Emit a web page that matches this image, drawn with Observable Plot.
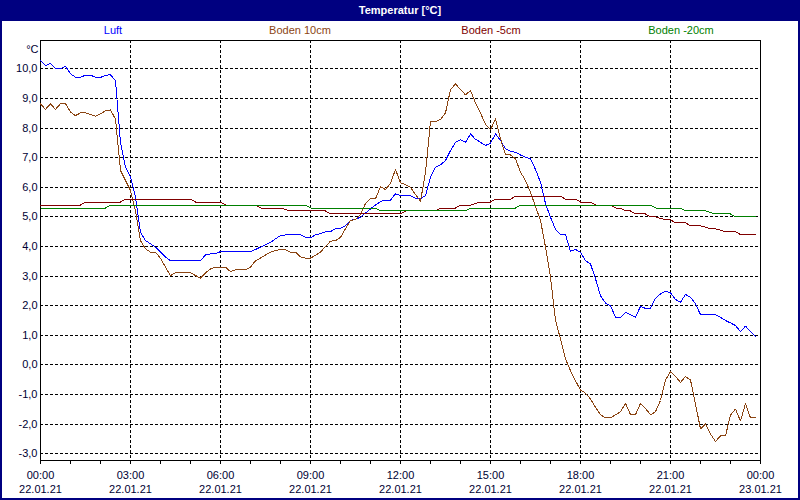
<!DOCTYPE html>
<html>
<head>
<meta charset="utf-8">
<script src="https://cdn.jsdelivr.net/npm/d3@7"></script>
<script src="https://cdn.jsdelivr.net/npm/@observablehq/plot@0.6"></script>
<style>
  html, body { margin: 0; padding: 0; background: #ffffff; }
  #wrap { position: relative; width: 800px; height: 500px; overflow: hidden; background: #ffffff;
          font-family: "Liberation Sans", Arial, sans-serif; font-size: 11px; }
  #titlebar { position: absolute; left: 0; top: 0; width: 800px; height: 21px; background: #000080;
              color: #ffffff; font-weight: bold; text-align: center; line-height: 21px; font-size: 11px; }
  #frame { position: absolute; left: 0; top: 0; width: 800px; height: 500px; box-sizing: border-box;
           border: 2px solid #000080; pointer-events: none; z-index: 5; }
  .leg { position: absolute; top: 23px; line-height: 14px; transform: translateX(-50%); white-space: nowrap; }
  #chart { position: absolute; left: 0; top: 21px; }
  #chart svg { shape-rendering: crispEdges; }
</style>
</head>
<body>
<div id="wrap">
  <div id="titlebar">Temperatur [°C]</div>
  <div id="legend"></div>
  <div id="chart"></div>
  <div id="frame"></div>
</div>
<script>
// ---- Data (10-minute samples starting 22.01.21 00:00) ----
const seriesNames = ["Luft", "Boden 10cm", "Boden -5cm", "Boden -20cm"];
const seriesColors = ["#0000ff", "#8b4513", "#800000", "#008000"];
const legendCenters = [113, 300, 491, 681];

const luft = [
  10.28, 10.11, 10.19, 10.0, 10.0, 10.09, 9.83, 9.72, 9.72, 9.78,
  9.79, 9.71, 9.71, 9.78, 9.80, 9.60, 7.5, 6.68, 6.35, 5.66,
  4.48, 4.2, 4.09, 3.98, 3.81, 3.64, 3.52, 3.52, 3.52, 3.52,
  3.52, 3.52, 3.52, 3.72, 3.75, 3.75, 3.83, 3.83, 3.83, 3.83,
  3.83, 3.83, 3.83, 3.90, 3.98, 4.06, 4.14, 4.26, 4.37, 4.39,
  4.39, 4.39, 4.39, 4.31, 4.29, 4.40, 4.43, 4.50, 4.50, 4.60,
  4.62, 4.70, 4.88, 4.92, 4.99, 5.13, 5.27, 5.40, 5.52, 5.57,
  5.57, 5.78, 5.72, 5.72, 5.72, 5.63, 5.61, 5.72, 6.34, 6.68,
  6.76, 6.90, 7.24, 7.52, 7.61, 7.52, 7.80, 7.62, 7.52, 7.41,
  7.49, 7.80, 7.58, 7.30, 7.21, 7.18, 7.09, 7.02, 6.96, 6.60,
  6.17, 5.45, 4.99, 4.58, 4.40, 4.40, 3.84, 3.90, 3.80, 3.52,
  3.41, 2.91, 2.34, 2.09, 2.0, 1.61, 1.61, 1.78, 1.69, 1.61,
  1.98, 1.91, 1.91, 2.25, 2.40, 2.49, 2.43, 2.21, 2.12, 2.38,
  2.29, 2.06, 1.70, 1.70, 1.70, 1.70, 1.61, 1.50, 1.42, 1.33,
  1.13, 1.31, 1.13, 0.96
];
const boden10 = [
  8.82, 8.63, 8.82, 8.63, 8.82, 8.82, 8.54, 8.42, 8.51, 8.51,
  8.46, 8.40, 8.48, 8.58, 8.61, 8.30, 6.57, 6.23, 5.89, 5.20,
  4.20, 3.92, 3.81, 3.81, 3.60, 3.30, 3.02, 3.11, 3.11, 3.11,
  3.11, 3.02, 2.93, 3.11, 3.24, 3.30, 3.30, 3.30, 3.15, 3.21,
  3.21, 3.21, 3.30, 3.52, 3.61, 3.71, 3.81, 3.87, 3.89, 3.89,
  3.81, 3.81, 3.65, 3.61, 3.61, 3.70, 3.81, 4.00, 4.18, 4.20,
  4.31, 4.60, 4.88, 4.91, 5.08, 5.45, 5.61, 5.61, 6.02, 5.92,
  6.14, 6.60, 6.15, 6.09, 6.00, 5.75, 5.53, 6.50, 8.22, 8.22,
  8.29, 8.51, 9.30, 9.49, 9.30, 9.12, 9.27, 8.85, 8.51, 8.12,
  7.94, 8.31, 7.64, 7.09, 7.09, 6.96, 6.51, 6.23, 5.83, 5.35,
  4.88, 3.98, 2.96, 1.50, 0.88, 0.20, -0.19, -0.53, -0.85, -0.95,
  -1.15, -1.43, -1.68, -1.79, -1.79, -1.68, -1.58, -1.30, -1.68, -1.68,
  -1.30, -1.47, -1.68, -1.58, -1.20, -0.50, -0.23, -0.39, -0.59, -0.39,
  -0.51, -1.32, -2.16, -1.99, -2.33, -2.59, -2.39, -2.39, -1.69, -1.49,
  -1.89, -1.30, -1.79, -1.79
];
const bodenM5 = [
  5.4, 5.4, 5.4, 5.4, 5.4, 5.4, 5.4, 5.4, 5.4, 5.5,
  5.5, 5.5, 5.5, 5.5, 5.5, 5.5, 5.5, 5.6, 5.6, 5.6,
  5.6, 5.6, 5.6, 5.6, 5.6, 5.6, 5.6, 5.6, 5.6, 5.6,
  5.6, 5.5, 5.5, 5.5, 5.5, 5.5, 5.5, 5.4, 5.4, 5.4,
  5.4, 5.4, 5.4, 5.4, 5.3, 5.3, 5.3, 5.3, 5.3, 5.25,
  5.2, 5.2, 5.2, 5.2, 5.2, 5.2, 5.2, 5.2, 5.1, 5.1,
  5.1, 5.1, 5.1, 5.1, 5.1, 5.1, 5.1, 5.1, 5.1, 5.1,
  5.1, 5.1, 5.1, 5.2, 5.2, 5.2, 5.2, 5.2, 5.2, 5.2,
  5.3, 5.3, 5.3, 5.3, 5.4, 5.4, 5.4, 5.45, 5.5, 5.5,
  5.5, 5.6, 5.6, 5.6, 5.6, 5.7, 5.7, 5.7, 5.7, 5.7,
  5.7, 5.7, 5.7, 5.7, 5.7, 5.6, 5.6, 5.6, 5.5, 5.5,
  5.5, 5.4, 5.4, 5.4, 5.4, 5.3, 5.3, 5.2, 5.2, 5.1,
  5.1, 5.1, 5.0, 5.0, 4.95, 4.9, 4.9, 4.8, 4.8, 4.8,
  4.7, 4.7, 4.7, 4.65, 4.6, 4.6, 4.55, 4.5, 4.5, 4.5,
  4.4, 4.4, 4.4, 4.4
];
const bodenM20 = [
  5.3, 5.3, 5.3, 5.3, 5.3, 5.3, 5.3, 5.3, 5.3, 5.3,
  5.3, 5.3, 5.3, 5.3, 5.4, 5.4, 5.4, 5.4, 5.4, 5.4,
  5.4, 5.4, 5.4, 5.4, 5.4, 5.4, 5.4, 5.4, 5.4, 5.4,
  5.4, 5.4, 5.4, 5.4, 5.4, 5.4, 5.4, 5.4, 5.4, 5.4,
  5.4, 5.4, 5.4, 5.4, 5.4, 5.4, 5.4, 5.4, 5.4, 5.4,
  5.4, 5.4, 5.4, 5.4, 5.3, 5.3, 5.3, 5.3, 5.3, 5.3,
  5.3, 5.3, 5.3, 5.3, 5.3, 5.3, 5.3, 5.3, 5.2, 5.2,
  5.2, 5.2, 5.2, 5.2, 5.2, 5.2, 5.2, 5.2, 5.2, 5.2,
  5.2, 5.2, 5.2, 5.2, 5.2, 5.2, 5.3, 5.3, 5.3, 5.3,
  5.3, 5.3, 5.3, 5.3, 5.3, 5.3, 5.4, 5.4, 5.4, 5.4,
  5.4, 5.4, 5.4, 5.4, 5.4, 5.4, 5.4, 5.4, 5.4, 5.4,
  5.4, 5.4, 5.4, 5.4, 5.4, 5.4, 5.4, 5.4, 5.4, 5.4,
  5.4, 5.4, 5.4, 5.3, 5.3, 5.3, 5.3, 5.3, 5.3, 5.2,
  5.2, 5.2, 5.2, 5.2, 5.15, 5.1, 5.1, 5.1, 5.1, 5.0,
  5.0, 5.0, 5.0, 5.0
];
const sampleStepHours = 10 / 60;

// Axis ticks and labels
const yTicks = [-3, -2, -1, 0, 1, 2, 3, 4, 5, 6, 7, 8, 9, 10];
const yTickLabels = ["-3,0", "-2,0", "-1,0", "0,0", "1,0", "2,0", "3,0", "4,0", "5,0", "6,0", "7,0", "8,0", "9,0", "10,0"];
const xTickHours = [0, 3, 6, 9, 12, 15, 18, 21, 24];
const xTickTimes = ["00:00", "03:00", "06:00", "09:00", "12:00", "15:00", "18:00", "21:00", "00:00"];
const xTickDates = ["22.01.21", "22.01.21", "22.01.21", "22.01.21", "22.01.21", "22.01.21", "22.01.21", "22.01.21", "23.01.21"];
const xMinorHours = [0, 1, 2, 3, 4, 5, 6, 7, 8, 9, 10, 11, 12, 13, 14, 15, 16, 17, 18, 19, 20, 21, 22, 23, 24];
const xGridHours = [3, 6, 9, 12, 15, 18, 21];

// ---- Build ----
const seriesValues = [luft, boden10, bodenM5, bodenM20];
const rows = [];
seriesValues.forEach((vals, si) => vals.forEach((v, i) => rows.push({t: i * sampleStepHours, v, s: seriesNames[si]})));

const legend = document.getElementById("legend");
seriesNames.forEach((n, i) => {
  const sp = document.createElement("span");
  sp.className = "leg";
  sp.textContent = n;
  sp.style.left = legendCenters[i] + "px";
  sp.style.color = seriesColors[i];
  legend.appendChild(sp);
});

const dash = "3,2";
const chart = Plot.plot({
  width: 800,
  height: 479,
  marginTop: 19,
  marginLeft: 40,
  marginRight: 40,
  marginBottom: 40,
  style: {fontFamily: "'Liberation Sans', Arial, sans-serif", fontSize: "11px", color: "#000033", background: "transparent", overflow: "visible"},
  x: {domain: [0, 24], axis: null},
  y: {domain: [-3.226, 10.956], axis: null},
  marks: [
    Plot.gridY(yTicks, {stroke: "#000000", strokeOpacity: 1, strokeDasharray: dash}),
    Plot.gridX(xGridHours, {stroke: "#000000", strokeOpacity: 1, strokeDasharray: dash}),
    Plot.axisY(yTicks, {tickSize: 0, tickPadding: 3, label: null,
      tickFormat: d => yTickLabels[yTicks.indexOf(d)]}),
    Plot.axisX(xMinorHours, {tickSize: 4, label: null, tickFormat: () => "", stroke: "#000000"}),
    Plot.axisX(xTickHours, {tickSize: 4, tickPadding: 5, label: null, lineHeight: 1.25, stroke: "#000000",
      tickFormat: d => xTickTimes[xTickHours.indexOf(d)] + "\n" + xTickDates[xTickHours.indexOf(d)]}),
    Plot.frame({stroke: "#000000"}),
    ...seriesNames.map((n, i) => Plot.line(rows.filter(r => r.s === n), {x: "t", y: "v", stroke: seriesColors[i], strokeWidth: 1})),
    Plot.text(["°C"], {frameAnchor: "top-left", dx: -2, dy: 5, textAnchor: "end", fill: "#000033"})
  ]
});
document.getElementById("chart").appendChild(chart);
</script>
</body>
</html>
